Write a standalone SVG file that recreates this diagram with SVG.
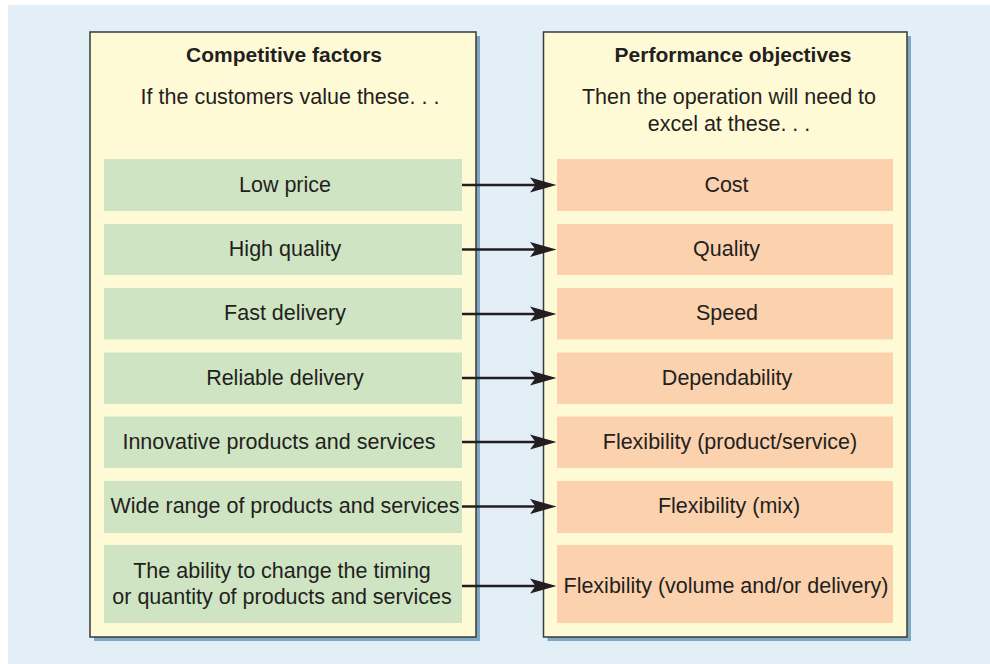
<svg xmlns="http://www.w3.org/2000/svg" width="990" height="664" viewBox="0 0 990 664">
<defs>
<style>
.bg{fill:#e3eff7}
.shadow{fill:#7fa7c3}
.panel{fill:#fffad6;stroke:#3a3a3a;stroke-width:1.5}
.green{fill:#cfe4c3}
.orange{fill:#fbd1ae}
text{font-family:"Liberation Sans",Arial,Helvetica,sans-serif;font-size:21.5px;fill:#231f20;text-anchor:middle}
.head{font-weight:bold;font-size:21px}
.conn{stroke:#231f20;stroke-width:2.7;fill:none}
</style>
<marker id="ah" markerUnits="userSpaceOnUse" viewBox="0 -8 27 16" refX="14" refY="0" markerWidth="27" markerHeight="16" orient="auto">
<path d="M0,-7.5 L26.5,0 L0,7.5 L5.5,0 Z" fill="#231f20"/>
</marker>
</defs>
<rect class="bg" x="8" y="5" width="982" height="659"/>
<g id="left-panel">
<rect class="shadow" x="94" y="36" width="386" height="605"/>
<rect class="panel" x="90" y="32" width="386" height="605"/>
<text class="head" x="284" y="62">Competitive factors</text>
<text x="290" y="104">If the customers value these. . .</text>
</g>
<g id="right-panel">
<rect class="shadow" x="547.5" y="36" width="363.5" height="605"/>
<rect class="panel" x="543.5" y="32" width="363.5" height="605"/>
<text class="head" x="733" y="62">Performance objectives</text>
<text x="729" y="103.5">Then the operation will need to</text>
<text x="729" y="131">excel at these. . .</text>
</g>
<g id="cf-low-price"><rect class="green" x="104" y="159" width="358" height="52"/><text x="285" y="191.5">Low price</text></g>
<g id="cf-high-quality"><rect class="green" x="104" y="224" width="358" height="51"/><text x="285" y="256">High quality</text></g>
<g id="cf-fast-delivery"><rect class="green" x="104" y="288" width="358" height="51.5"/><text x="285" y="320">Fast delivery</text></g>
<g id="cf-reliable-delivery"><rect class="green" x="104" y="352.5" width="358" height="51.5"/><text x="285" y="384.5">Reliable delivery</text></g>
<g id="cf-innovative"><rect class="green" x="104" y="416.5" width="358" height="51.5"/><text x="279" y="448.5">Innovative products and services</text></g>
<g id="cf-wide-range"><rect class="green" x="104" y="481" width="358" height="52"/><text x="285" y="512.5">Wide range of products and services</text></g>
<g id="cf-timing"><rect class="green" x="104" y="545" width="358" height="78"/><text x="282" y="577.5">The ability to change the timing</text><text x="282" y="603.5">or quantity of products and services</text></g>
<g id="po-cost"><rect class="orange" x="557" y="159" width="336" height="52"/><text x="726.5" y="191.5">Cost</text></g>
<g id="po-quality"><rect class="orange" x="557" y="224" width="336" height="51"/><text x="726.5" y="256">Quality</text></g>
<g id="po-speed"><rect class="orange" x="557" y="288" width="336" height="51.5"/><text x="727" y="320">Speed</text></g>
<g id="po-dependability"><rect class="orange" x="557" y="352.5" width="336" height="51.5"/><text x="727" y="384.5">Dependability</text></g>
<g id="po-flex-product"><rect class="orange" x="557" y="416.5" width="336" height="51.5"/><text x="730" y="448.5">Flexibility (product/service)</text></g>
<g id="po-flex-mix"><rect class="orange" x="557" y="481" width="336" height="52"/><text x="729" y="512.5">Flexibility (mix)</text></g>
<g id="po-flex-volume"><rect class="orange" x="557" y="545" width="336" height="78"/><text x="726" y="592.5">Flexibility (volume and/or delivery)</text></g>
<g id="connectors">
<path class="conn" d="M462,185 H544" marker-end="url(#ah)"/>
<path class="conn" d="M462,249.5 H544" marker-end="url(#ah)"/>
<path class="conn" d="M462,314 H544" marker-end="url(#ah)"/>
<path class="conn" d="M462,378 H544" marker-end="url(#ah)"/>
<path class="conn" d="M462,442 H544" marker-end="url(#ah)"/>
<path class="conn" d="M462,506.5 H544" marker-end="url(#ah)"/>
<path class="conn" d="M462,586 H544" marker-end="url(#ah)"/>
</g>
</svg>
